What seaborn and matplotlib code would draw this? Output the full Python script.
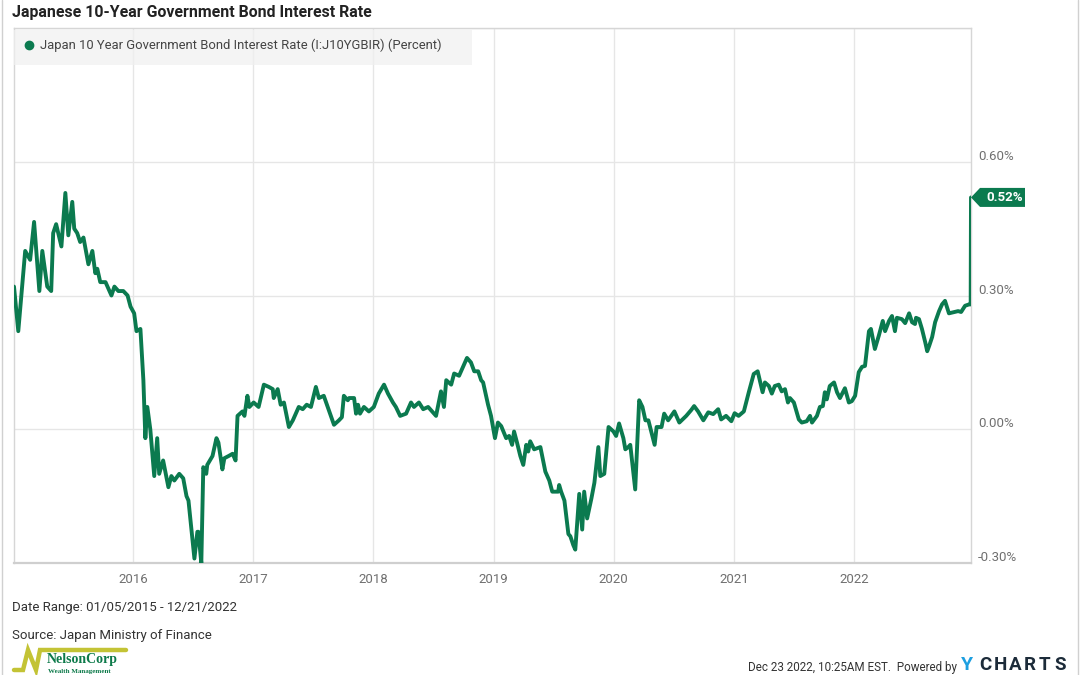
import matplotlib
matplotlib.use("Agg")
import matplotlib.pyplot as plt
import matplotlib.transforms as mtrans
from matplotlib.patches import Polygon, Rectangle
from matplotlib.lines import Line2D
import seaborn as sns
import pandas as pd

# ---------------- data ----------------
dates = [
    "2015-01-05", "2015-01-18", "2015-02-08", "2015-02-23", "2015-03-07", "2015-03-23",
    "2015-04-01", "2015-04-16", "2015-04-28", "2015-05-04", "2015-05-13", "2015-05-29",
    "2015-06-10", "2015-06-19", "2015-07-01", "2015-07-07", "2015-07-16", "2015-07-25",
    "2015-08-04", "2015-08-19", "2015-08-31", "2015-09-09", "2015-09-15", "2015-09-24",
    "2015-10-10", "2015-10-28", "2015-11-06", "2015-11-18", "2015-12-03", "2015-12-16",
    "2015-12-25",
    "2016-01-05", "2016-01-12", "2016-01-24", "2016-02-02", "2016-02-08", "2016-02-14",
    "2016-02-23", "2016-03-06", "2016-03-15", "2016-03-21", "2016-04-02", "2016-04-18",
    "2016-04-27", "2016-05-06", "2016-05-21", "2016-06-02", "2016-06-12", "2016-06-18",
    "2016-07-06", "2016-07-15", "2016-07-18", "2016-07-27", "2016-08-02", "2016-08-11",
    "2016-08-14", "2016-08-30", "2016-09-11", "2016-09-17", "2016-09-29", "2016-10-05",
    "2016-10-18", "2016-10-30", "2016-11-08", "2016-11-14", "2016-11-29", "2016-12-05",
    "2016-12-14", "2016-12-20",
    "2017-01-02", "2017-01-17", "2017-02-02", "2017-02-17", "2017-03-01", "2017-03-04",
    "2017-03-16", "2017-03-25", "2017-04-04", "2017-04-19", "2017-05-01", "2017-05-19",
    "2017-05-31", "2017-06-12", "2017-06-25", "2017-07-10", "2017-07-19", "2017-08-03",
    "2017-08-15", "2017-09-03", "2017-09-18", "2017-09-27", "2017-10-03", "2017-10-15",
    "2017-10-19", "2017-11-03", "2017-11-09", "2017-11-15", "2017-11-21", "2017-12-03",
    "2017-12-18",
    "2018-01-02", "2018-01-17", "2018-02-02", "2018-02-14", "2018-03-01", "2018-03-10",
    "2018-03-23", "2018-04-10", "2018-04-25", "2018-05-04", "2018-05-19", "2018-06-01",
    "2018-06-16", "2018-07-10", "2018-07-25", "2018-08-03", "2018-08-10", "2018-08-25",
    "2018-09-03", "2018-09-18", "2018-09-30", "2018-10-12", "2018-10-24", "2018-11-03",
    "2018-11-15", "2018-11-24", "2018-11-30", "2018-12-15", "2018-12-24",
    "2019-01-05", "2019-01-14", "2019-01-24", "2019-02-08", "2019-02-17", "2019-02-26",
    "2019-03-04", "2019-03-13", "2019-03-23", "2019-04-01", "2019-04-10", "2019-04-16",
    "2019-04-22", "2019-05-04", "2019-05-23", "2019-06-07", "2019-06-19", "2019-06-28",
    "2019-07-07", "2019-07-16", "2019-07-19", "2019-07-25", "2019-08-04", "2019-08-16",
    "2019-08-22", "2019-08-31", "2019-09-06", "2019-09-18", "2019-09-27", "2019-10-03",
    "2019-10-12", "2019-10-25", "2019-11-03", "2019-11-15", "2019-11-21", "2019-12-03",
    "2019-12-16", "2019-12-31",
    "2020-01-08", "2020-01-17", "2020-01-30", "2020-02-05", "2020-02-14", "2020-02-20",
    "2020-03-06", "2020-03-18", "2020-03-28", "2020-04-06", "2020-04-15", "2020-05-04",
    "2020-05-10", "2020-05-25", "2020-06-02", "2020-06-14", "2020-07-03", "2020-07-18",
    "2020-08-08", "2020-08-23", "2020-09-01", "2020-09-13", "2020-09-29", "2020-10-14",
    "2020-10-29", "2020-11-13", "2020-11-22", "2020-12-07", "2020-12-23",
    "2021-01-02", "2021-01-14", "2021-01-30", "2021-02-14", "2021-03-01", "2021-03-13",
    "2021-03-28", "2021-04-04", "2021-04-16", "2021-04-25", "2021-05-04", "2021-05-16",
    "2021-05-25", "2021-06-04", "2021-06-13", "2021-06-19", "2021-07-01", "2021-07-16",
    "2021-07-25", "2021-08-09", "2021-08-19", "2021-08-25", "2021-09-09", "2021-09-18",
    "2021-09-27", "2021-10-03", "2021-10-09", "2021-10-18", "2021-10-31", "2021-11-09",
    "2021-11-18", "2021-12-03", "2021-12-15", "2021-12-24",
    "2022-01-03", "2022-01-14", "2022-01-24", "2022-02-02", "2022-02-14", "2022-02-20",
    "2022-03-04", "2022-03-16", "2022-03-28", "2022-04-04", "2022-04-16", "2022-04-25",
    "2022-05-04", "2022-05-10", "2022-05-25", "2022-06-04", "2022-06-16", "2022-06-25",
    "2022-07-04", "2022-07-07", "2022-07-16", "2022-07-25", "2022-08-04", "2022-08-10",
    "2022-08-16", "2022-08-25", "2022-09-03", "2022-09-15", "2022-09-24", "2022-10-03",
    "2022-10-15", "2022-10-31", "2022-11-12", "2022-11-21", "2022-12-03", "2022-12-15",
    "2022-12-20", "2022-12-21",
]
rates = [
    0.32, 0.22, 0.40, 0.38, 0.465, 0.31,
    0.40, 0.32, 0.31, 0.44, 0.46, 0.41,
    0.53, 0.435, 0.51, 0.45, 0.44, 0.42,
    0.43, 0.37, 0.40, 0.35, 0.36, 0.33,
    0.33, 0.30, 0.32, 0.31, 0.31, 0.30,
    0.275,
    0.26, 0.22, 0.225, 0.11, -0.02, 0.05,
    0.00, -0.105, -0.02, -0.10, -0.07, -0.13,
    -0.105, -0.115, -0.10, -0.11, -0.15, -0.16,
    -0.29, -0.23, -0.23, -0.30, -0.085, -0.10,
    -0.08, -0.06, -0.02, -0.03, -0.09, -0.065,
    -0.06, -0.055, -0.07, 0.03, 0.04, 0.03,
    0.075, 0.05,
    0.06, 0.05, 0.10, 0.095, 0.09, 0.07,
    0.09, 0.055, 0.06, 0.005, 0.02, 0.05,
    0.045, 0.055, 0.05, 0.095, 0.07, 0.075,
    0.05, 0.01, 0.02, 0.027, 0.075, 0.065,
    0.07, 0.07, 0.035, 0.055, 0.035, 0.05,
    0.04,
    0.05, 0.08, 0.10, 0.08, 0.06, 0.05,
    0.03, 0.035, 0.06, 0.05, 0.06, 0.045,
    0.05, 0.03, 0.085, 0.05, 0.11, 0.10,
    0.125, 0.12, 0.14, 0.16, 0.15, 0.13,
    0.13, 0.11, 0.105, 0.055, 0.03,
    -0.02, 0.015, 0.007, -0.02, -0.015, -0.035,
    -0.005, -0.03, -0.06, -0.08, -0.035, -0.05,
    -0.027, -0.045, -0.04, -0.095, -0.115, -0.14,
    -0.14, -0.14, -0.125, -0.14, -0.16, -0.235,
    -0.24, -0.26, -0.27, -0.145, -0.225, -0.14,
    -0.20, -0.155, -0.12, -0.04, -0.105, -0.10,
    0.005, -0.005,
    -0.015, 0.013, -0.02, -0.045, -0.04, -0.035,
    -0.135, 0.065, 0.05, 0.02, 0.02, -0.035,
    0.005, 0.005, 0.035, 0.02, 0.04, 0.015,
    0.03, 0.043, 0.052, 0.04, 0.02, 0.038,
    0.034, 0.045, 0.022, 0.03, 0.018,
    0.036, 0.03, 0.04, 0.083, 0.124, 0.13,
    0.083, 0.105, 0.097, 0.08, 0.097, 0.10,
    0.085, 0.09, 0.06, 0.07, 0.06, 0.022,
    0.015, 0.018, 0.03, 0.015, 0.03, 0.05,
    0.052, 0.083, 0.067, 0.097, 0.105, 0.083,
    0.07, 0.092, 0.06, 0.063,
    0.075, 0.128, 0.14, 0.142, 0.22, 0.225,
    0.18, 0.21, 0.243, 0.22, 0.243, 0.254,
    0.22, 0.25, 0.247, 0.238, 0.26, 0.24,
    0.236, 0.25, 0.247, 0.225, 0.195, 0.175,
    0.187, 0.207, 0.24, 0.265, 0.28, 0.288,
    0.26, 0.263, 0.265, 0.263, 0.277, 0.28,
    0.28, 0.52,
]
year_ticks = ["2016", "2017", "2018", "2019", "2020", "2021", "2022"]
y_ticks = [-0.30, 0.00, 0.30, 0.60]
y_tick_labels = ["-0.30%", "0.00%", "0.30%", "0.60%"]
last_label = "0.52%"
title = "Japanese 10-Year Government Bond Interest Rate"
series_name = "Japan 10 Year Government Bond Interest Rate (I:J10YGBIR) (Percent)"
date_range = "Date Range: 01/05/2015 - 12/21/2022"
source = "Source: Japan Ministry of Finance"
stamp = "Dec 23 2022, 10:25AM EST.  Powered by"

# ---------------- style ----------------
GREEN = "#0b7a4f"
GRID = "#e6e6e6"
TICK = "#707070"
W, H = 1080, 675

sns.set_style("white")
plt.rcParams["font.family"] = ["Roboto", "DejaVu Sans"]


def fx(x):
    return x / W


def fy(y):
    return 1 - y / H


fig = plt.figure(figsize=(W / 100, H / 100), dpi=100)
ax = fig.add_axes([fx(14), fy(563), (971 - 14) / W, (563 - 28) / H])

df = pd.DataFrame({"date": pd.to_datetime(dates), "rate": rates})
sns.lineplot(data=df, x="date", y="rate", ax=ax, color=GREEN, linewidth=2.8,
             solid_joinstyle="round", zorder=5)

ax.set_xlim(df["date"].min(), df["date"].max())
ax.set_ylim(-0.30, 0.90)
ax.set_xlabel("")
ax.set_ylabel("")

ax.set_xticks(pd.to_datetime([y + "-01-01" for y in year_ticks]))
ax.set_xticklabels(year_ticks)
ax.set_yticks(y_ticks + [0.90])
ax.set_yticklabels(y_tick_labels + [""])
ax.yaxis.tick_right()
ax.tick_params(axis="both", length=0, labelsize=9.5, labelcolor=TICK)
ax.tick_params(axis="x", pad=7)
ax.tick_params(axis="y", pad=5)
shift = mtrans.ScaledTranslation(0, 0.07, fig.dpi_scale_trans)
for lab in ax.get_yticklabels():
    lab.set_transform(lab.get_transform() + shift)

ax.grid(True, color=GRID, linewidth=1)
for s in ["left", "top", "right"]:
    ax.spines[s].set_color("#d6d6d6")
    ax.spines[s].set_linewidth(1)
ax.spines["bottom"].set_color("#cfcfcf")
ax.spines["bottom"].set_linewidth(1.6)

# legend box
fig.patches.append(Rectangle((fx(14), fy(65)), (472 - 14) / W, 35 / H,
                             transform=fig.transFigure, facecolor="#f0f0f0",
                             alpha=0.7, edgecolor="none", zorder=6))
fig.lines.append(Line2D([fx(29)], [fy(45)], marker="o", markersize=6,
                        color=GREEN, transform=fig.transFigure, zorder=7))
fig.text(fx(40), fy(45), series_name, fontsize=9.4, color="#444444",
         va="center", ha="left", zorder=7)

# title
fig.text(fx(12), fy(12), title, fontsize=11.4, fontweight="bold",
         color="#222222", va="center", ha="left")

# last value tag
last_val = rates[-1]
btr = mtrans.blended_transform_factory(ax.transAxes, ax.transData)
a, b, h = 9 / 957, (1025 - 971) / 957, 9.5 / 445.8
tag = Polygon([(1.0, last_val), (1 + a, last_val + h), (1 + b, last_val + h),
               (1 + b, last_val - h), (1 + a, last_val - h)],
              closed=True, transform=btr, facecolor=GREEN, edgecolor="none",
              clip_on=False, zorder=8)
ax.add_patch(tag)
ax.text(1 + (a + b) / 2 + 0.002, last_val, last_label, transform=btr,
        color="white", fontsize=9.5, fontweight="bold", va="center",
        ha="center", clip_on=False, zorder=9)

# footer
fig.text(fx(12), fy(608), date_range, fontsize=9.5, color="#333333",
         va="center", ha="left")
fig.text(fx(12), fy(635), source, fontsize=9.5, color="#333333",
         va="center", ha="left")

# NelsonCorp logo
fig.lines.append(Line2D([fx(14), fx(23), fx(28), fx(36), fx(40), fx(126)],
                        [fy(670), fy(670), fy(650), fy(670), fy(650), fy(650)],
                        color="#c3c335", linewidth=3.2, transform=fig.transFigure,
                        solid_joinstyle="miter"))
fig.text(fx(47), fy(660), "NelsonCorp", fontsize=10, fontweight="bold",
         family=["Liberation Serif", "DejaVu Serif"], color="#0d7a4a",
         va="center", ha="left")
fig.text(fx(48), fy(671), "Wealth Management", fontsize=5, fontweight="bold",
         family=["Liberation Serif", "DejaVu Serif"], color="#0d7a4a",
         va="center", ha="left")

# timestamp and YCharts
fig.text(fx(957), fy(674), stamp, fontsize=8.4, color="#333333",
         va="bottom", ha="right")
fig.text(fx(961), fy(674), "Y", fontsize=14, fontweight="bold",
         color="#1d9fe0", va="bottom", ha="left")
for i, ch in enumerate("CHARTS"):
    fig.text(fx(979 + i * 15), fy(674), ch, fontsize=13.5, fontweight="bold",
             color="#1c2b39", va="bottom", ha="left")

# outer border lines
for xb in (2, 1078):
    fig.lines.append(Line2D([fx(xb), fx(xb)], [0, 1], color="#d0d0d0",
                            linewidth=1, transform=fig.transFigure))

fig.savefig("out.png", dpi=100)
